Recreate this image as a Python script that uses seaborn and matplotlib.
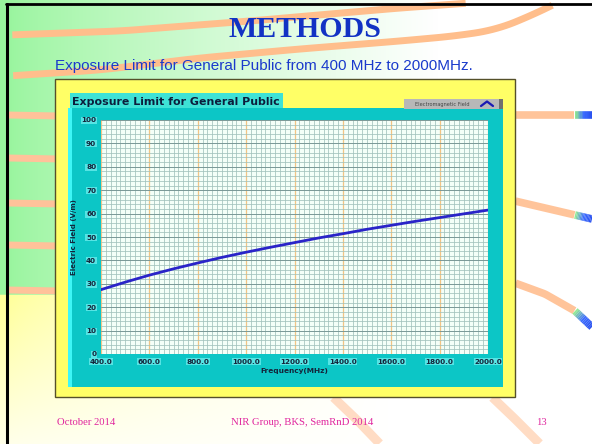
import numpy as np
import pandas as pd
import matplotlib
matplotlib.use("Agg")
import matplotlib.pyplot as plt
from matplotlib.patches import Rectangle
from matplotlib.collections import LineCollection
from matplotlib.colors import LinearSegmentedColormap
import seaborn as sns

# ---- data -------------------------------------------------------------
freq_mhz = [400, 500, 600, 700, 800, 900, 1000, 1100, 1200,
            1300, 1400, 1500, 1600, 1700, 1800, 1900, 2000]
e_field = [27.5, 30.7, 33.7, 36.4, 38.9, 41.3, 43.5, 45.6, 47.6,
           49.6, 51.4, 53.3, 55.0, 56.7, 58.3, 59.9, 61.5]
x_ticks = [400, 600, 800, 1000, 1200, 1400, 1600, 1800, 2000]
y_ticks = [0, 10, 20, 30, 40, 50, 60, 70, 80, 90, 100]

slide_title = "METHODS"
slide_subtitle = "Exposure Limit for General Public from 400 MHz to 2000MHz."
chart_title = "Exposure Limit for General Public"
legend_name = "Electromagnetic Field"
footer_left = "October 2014"
footer_mid = "NIR Group, BKS, SemRnD 2014"
footer_right = "13"

df = pd.DataFrame({"Frequency(MHz)": freq_mhz, "Electric Field (V/m)": e_field})

sns.set_style("white")
plt.rcParams["font.family"] = ["DejaVu Sans"]

W, H = 592, 444
fig = plt.figure(figsize=(W / 100, H / 100), dpi=100)

# ---- slide background (pixel coordinates) ------------------------------
bg = fig.add_axes([0, 0, 1, 1])
bg.set_xlim(0, W)
bg.set_ylim(H, 0)
bg.axis("off")

yy, xx = np.mgrid[0:H, 0:W].astype(float)
green = np.array([0.60, 0.96, 0.62])
yellow = np.array([1.0, 1.0, 0.60])
white = np.array([1.0, 1.0, 1.0])
tg = np.clip((xx - 8) / 430, 0, 1) ** 0.8
img = green * (1 - tg)[..., None] + white * tg[..., None]
ty = np.clip((xx - 8) / 380, 0, 1) ** 0.7
sy = np.clip((yy - 295) / 160, 0, 1)
wy = (1 - ty) * (1 - 0.85 * sy)
low = yellow * wy[..., None] + white * (1 - wy)[..., None]
img = np.where((yy >= 295)[..., None], low, img)
bg.imshow(img, extent=(0, W, H, 0), aspect="auto", zorder=0)

band = "#ffbe8c"


def curve(pts, lw=5.0, color=band, z=1):
    p = np.array(pts, float)
    t = np.concatenate([[0], np.cumsum(np.hypot(*np.diff(p, axis=0).T))])
    tt = np.linspace(0, t[-1], 120)
    xs = np.interp(tt, t, p[:, 0])
    ys = np.interp(tt, t, p[:, 1])
    # light smoothing of the polyline corners
    k = np.ones(9) / 9
    xs_s = np.convolve(np.pad(xs, 4, mode="edge"), k, mode="valid")
    ys_s = np.convolve(np.pad(ys, 4, mode="edge"), k, mode="valid")
    bg.plot(xs_s, ys_s, color=color, lw=lw, solid_capstyle="butt", zorder=z)


# sweeping arcs at the top
curve([(8, 35), (120, 31), (250, 21), (330, 14), (400, 8), (470, 3)])
curve([(8, 76), (100, 70), (200, 58), (300, 49), (400, 41), (455, 36),
       (495, 30), (528, 17), (557, 3)])
# stripes at the left edge (behind the chart panel)
for y0 in [115, 158, 203, 245, 290]:
    curve([(8, y0), (60, y0 + 1)], color="#ffc29a")
# stripes on the right with a green-to-blue tip
tip = LinearSegmentedColormap.from_list("tip", ["#92ea92", "#3c6cff", "#2a52f0"])
right_stripes = [
    [(515, 115), (545, 115), (575, 115), (592, 115)],
    [(515, 201), (545, 208), (575, 215), (592, 219)],
    [(515, 283), (545, 294), (575, 311), (592, 327)],
]
for pts in right_stripes:
    curve(pts[:3], lw=5.5, color="#ffc49a")
    n = 14
    segx = np.linspace(pts[2][0], pts[3][0], n)
    segy = np.linspace(pts[2][1], pts[3][1], n)
    segs = [[(segx[i], segy[i]), (segx[i + 1], segy[i + 1])] for i in range(n - 1)]
    lc = LineCollection(segs, colors=[tip(i / (n - 2)) for i in range(n - 1)],
                        linewidths=5.5, capstyle="butt", zorder=2)
    bg.add_collection(lc)
# faint arcs at the bottom
curve([(333, 397), (356, 419), (380, 444)], lw=6.5, color="#ffdcc4")
curve([(492, 397), (515, 419), (540, 444)], lw=6.5, color="#ffdcc4")

# slide frame
bg.plot([6.5, 6.5], [4, H], color="black", lw=2.2, zorder=5)
bg.plot([6, W], [4.5, 4.5], color="black", lw=2.0, zorder=5)

# ---- slide texts -------------------------------------------------------
bg.text(305, 37, slide_title, ha="center", va="baseline", fontsize=21.5,
        fontweight="bold", color="#1232c4", family="Liberation Serif", zorder=6)
bg.text(55, 70, slide_subtitle, ha="left", va="baseline", fontsize=11,
        color="#1a3acc", family="Liberation Sans", zorder=6)
for x0, txt, ha in [(57, footer_left, "left"), (302, footer_mid, "center"),
                    (541, footer_right, "center")]:
    bg.text(x0, 425, txt, ha=ha, va="baseline", fontsize=7.7, color="#e0259e",
            family="Liberation Serif", zorder=6)

# ---- chart panels ------------------------------------------------------
bg.add_patch(Rectangle((55, 79), 460, 318, facecolor="#ffff66", edgecolor="#55502a",
                       lw=1.0, zorder=3))
bg.add_patch(Rectangle((68, 108), 435, 279, facecolor="#0cc6c6", edgecolor="none", zorder=3.1))
bg.add_patch(Rectangle((68, 108), 4, 279, facecolor="#3ef6f6", edgecolor="none", zorder=3.2))
bg.add_patch(Rectangle((70, 93), 213, 15, facecolor="#3ee2d6", edgecolor="none", zorder=3.2))
bg.text(72, 104.5, chart_title, ha="left", va="baseline", fontsize=7.9, fontweight="bold",
        color="#0c1d3c", zorder=4)
# plot legend
bg.add_patch(Rectangle((404, 99), 99, 9.5, facecolor="#b8b8b8", edgecolor="none", zorder=3.2))
bg.add_patch(Rectangle((499, 99), 4, 9.5, facecolor="#707070", edgecolor="none", zorder=3.3))
bg.text(442, 105.5, legend_name, ha="center", va="baseline", fontsize=3.6,
        color="#444444", zorder=4)
bg.plot([481, 487, 493], [106, 101.5, 106], color="#1a1ab4", lw=1.6, zorder=4)

# ---- graph -------------------------------------------------------------
ax = fig.add_axes([101 / W, 1 - 354 / H, 387 / W, 234 / H])
ax.set_facecolor("#f4fff8")
sns.lineplot(data=df, x="Frequency(MHz)", y="Electric Field (V/m)", ax=ax,
             color="#2a24c8", lw=2.0, zorder=5)
ax.set_xlim(400, 2000)
ax.set_ylim(0, 100)
ax.set_xticks(x_ticks)
ax.set_yticks(y_ticks)
ax.set_xticks(np.arange(400, 2001, 20), minor=True)
ax.set_yticks(np.arange(0, 101, 2), minor=True)
ax.set_xticklabels([f"{v:.1f}" for v in x_ticks])
ax.set_yticklabels([str(v) for v in y_ticks])
ax.grid(which="minor", color="#a2c2bc", lw=0.55)
ax.grid(which="major", axis="y", color="#7a9896", lw=0.7)
ax.grid(which="major", axis="x", color="#f2c484", lw=0.9)
ax.set_axisbelow(True)
for s in ax.spines.values():
    s.set_visible(False)
ax.tick_params(which="major", length=2, width=0.6, color="#203040", pad=1.5,
               labelsize=5.2, labelcolor="#14243a")
ax.tick_params(which="minor", length=0)
for lab in ax.get_xticklabels() + ax.get_yticklabels():
    lab.set_fontweight("bold")
    lab.set_bbox(dict(facecolor="#56e4e4", edgecolor="none", pad=0.4))
ax.set_xlabel("Frequency(MHz)", fontsize=5.3, fontweight="bold", color="#14243a", labelpad=2.5)
ax.set_ylabel("Electric Field (V/m)", fontsize=5.0, fontweight="bold", color="#14243a", labelpad=3)

fig.savefig("out.png", dpi=100)
